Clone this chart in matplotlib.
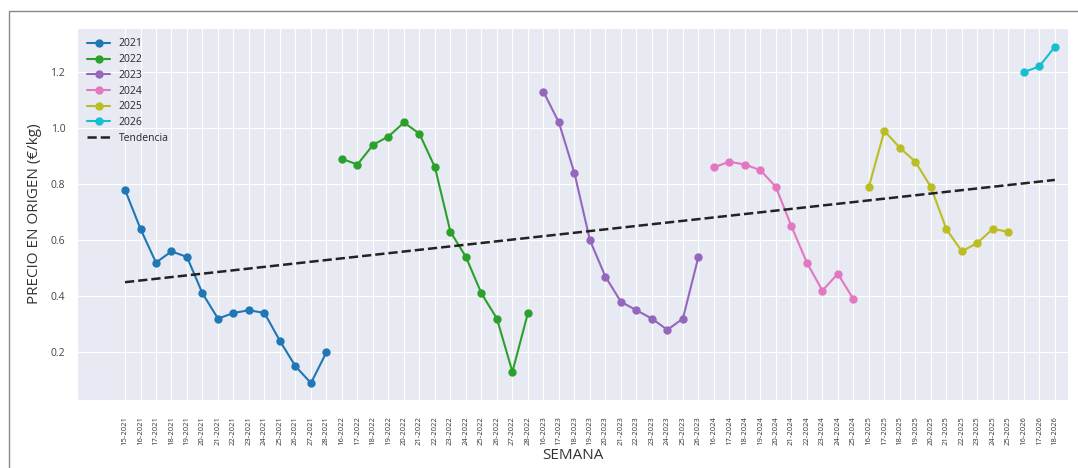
import matplotlib
matplotlib.use('Agg')
import matplotlib.pyplot as plt
from matplotlib.patches import Rectangle
import seaborn as sns

# weeks shown per campaign
weeks_2021 = list(range(15, 29))
weeks_2022 = list(range(16, 29))
weeks_2023 = list(range(16, 27))
weeks_2024 = list(range(16, 26))
weeks_2025 = list(range(16, 26))
weeks_2026 = list(range(16, 19))

# price at origin (EUR/kg)
price_2021 = [0.78, 0.64, 0.52, 0.56, 0.54, 0.41, 0.32, 0.34, 0.35, 0.34, 0.24, 0.15, 0.09, 0.20]
price_2022 = [0.89, 0.87, 0.94, 0.97, 1.02, 0.98, 0.86, 0.63, 0.54, 0.41, 0.32, 0.13, 0.34]
price_2023 = [1.13, 1.02, 0.84, 0.60, 0.47, 0.38, 0.35, 0.32, 0.28, 0.32, 0.54]
price_2024 = [0.86, 0.88, 0.87, 0.85, 0.79, 0.65, 0.52, 0.42, 0.48, 0.39]
price_2025 = [0.79, 0.99, 0.93, 0.88, 0.79, 0.64, 0.56, 0.59, 0.64, 0.63]
price_2026 = [1.20, 1.22, 1.29]

# trend line endpoints
trend_ends = [0.45, 0.815]

years = [2021, 2022, 2023, 2024, 2025, 2026]
weeks = [weeks_2021, weeks_2022, weeks_2023, weeks_2024, weeks_2025, weeks_2026]
prices = [price_2021, price_2022, price_2023, price_2024, price_2025, price_2026]
colors = ['#1f77b4', '#2ca02c', '#9467bd', '#e377c2', '#bcbd22', '#17becf']

sns.set_style('darkgrid', {'axes.facecolor': '#e7eaf2'})
plt.rcParams['font.family'] = ['Open Sans', 'DejaVu Sans']

fig = plt.figure(figsize=(10.78, 4.68), dpi=100)
ax = fig.add_axes([0.0714, 0.145, 0.9193, 0.795])

labels = []
pos = 0
for year, wk, pr, col in zip(years, weeks, prices, colors):
    xs = list(range(pos, pos + len(wk)))
    ax.plot(xs, pr, '-o', color=col, lw=1.5, ms=5, label=str(year))
    labels += [f'{w}-{year}' for w in wk]
    pos += len(wk)

ax.plot([0, pos - 1], trend_ends, '--', color='#222222', lw=1.8, label='Tendencia')

ax.set_xticks(range(pos))
ax.set_xticklabels(labels, rotation=90, fontsize=5.5, color='#333333')
ax.set_xlim(-3.1, 60.85)
ax.set_ylim(0.029, 1.357)
ax.set_yticks([0.2, 0.4, 0.6, 0.8, 1.0, 1.2])
ax.set_yticklabels(['0.2', '0.4', '0.6', '0.8', '1.0', '1.2'])
ax.tick_params(axis='y', labelsize=7.5, labelcolor='#444444', pad=5)
ax.tick_params(axis='x', pad=8)
ax.set_xlabel('SEMANA', fontsize=11, color='#333333', labelpad=2)
ax.set_ylabel('PRECIO EN ORIGEN (€/kg)', fontsize=11, color='#333333', labelpad=6)
ax.legend(loc='upper left', fontsize=7.5, frameon=False, handlelength=2.2,
          labelspacing=0.45, borderaxespad=0.6)

# thin frame around the picture
fig.patches.append(Rectangle((0.008, -0.05), 1.1, 1.026, transform=fig.transFigure,
                             fill=False, edgecolor='#888888', lw=1.0))

fig.savefig('out.png', dpi=100)
